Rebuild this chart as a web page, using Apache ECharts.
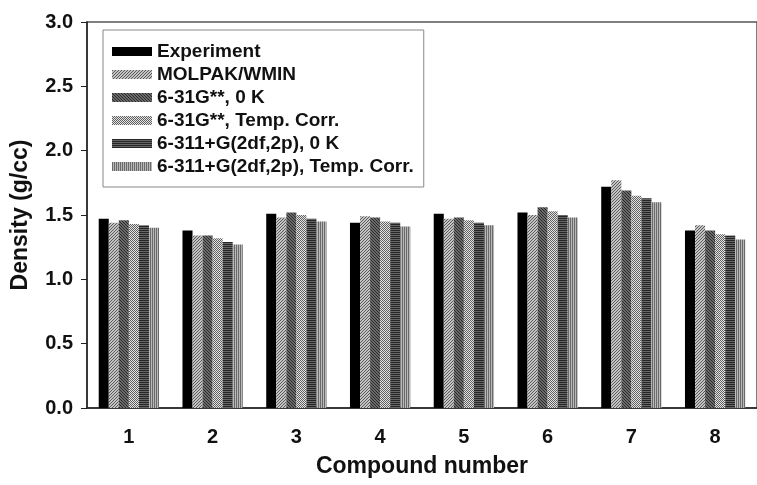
<!DOCTYPE html>
<html>
<head>
<meta charset="utf-8">
<script src="https://cdn.jsdelivr.net/npm/echarts@6/dist/echarts.min.js"></script>
<style>
html,body{margin:0;padding:0;background:#fff;}
#chart{width:757px;height:485px;}
</style>
</head>
<body>
<div id="chart"></div>
<script>
var categories = ['1','2','3','4','5','6','7','8'];
var seriesNames = ['Experiment','MOLPAK/WMIN','6-31G**, 0 K','6-31G**, Temp. Corr.','6-311+G(2df,2p), 0 K','6-311+G(2df,2p), Temp. Corr.'];
var experiment = [1.47, 1.38, 1.51, 1.44, 1.51, 1.52, 1.72, 1.38];
var molpak     = [1.44, 1.34, 1.48, 1.49, 1.47, 1.50, 1.77, 1.42];
var g631_0K    = [1.46, 1.34, 1.52, 1.48, 1.48, 1.56, 1.69, 1.38];
var g631_T     = [1.43, 1.32, 1.50, 1.45, 1.46, 1.53, 1.65, 1.35];
var g6311_0K   = [1.42, 1.29, 1.47, 1.44, 1.44, 1.50, 1.63, 1.34];
var g6311_T    = [1.40, 1.27, 1.45, 1.41, 1.42, 1.48, 1.60, 1.31];
var yTicks = [0, 0.5, 1.0, 1.5, 2.0, 2.5, 3.0];

function makePattern(n, bg, fg, test) {
  var c = document.createElement('canvas');
  c.width = n; c.height = n;
  var ctx = c.getContext('2d');
  ctx.fillStyle = bg; ctx.fillRect(0, 0, n, n);
  ctx.fillStyle = fg;
  for (var x = 0; x < n; x++) for (var y = 0; y < n; y++) {
    if (test(x, y)) ctx.fillRect(x, y, 1, 1);
  }
  return {image: c, repeat: 'repeat'};
}
var fills = [
  '#000000',
  makePattern(3, '#c4c4c4', '#5a5a5a', function(x,y){return (x+y)%3===0;}),
  makePattern(3, '#6a6a6a', '#2a2a2a', function(x,y){return (x-y+3)%3===0;}),
  makePattern(2, '#e4e4e4', '#606060', function(x,y){return (x+y)%2===0;}),
  makePattern(2, '#666666', '#262626', function(x,y){return y%2===0;}),
  makePattern(2, '#b8b8b8', '#6a6a6a', function(x,y){return x%2===0;})
];
var dataSets = [experiment, molpak, g631_0K, g631_T, g6311_0K, g6311_T];
var font = '"Liberation Sans", Arial, sans-serif';

var chart = echarts.init(document.getElementById('chart'), null, {renderer: 'canvas'});
chart.setOption({
  animation: false,
  backgroundColor: '#ffffff',
  grid: {left: 87, top: 22, right: -7, bottom: 77, show: true, borderColor: '#555', borderWidth: 1.5, backgroundColor: 'transparent'},
  legend: {
    orient: 'vertical', left: 103, top: 30,
    padding: [12, 10, 11, 9],
    borderColor: '#888', borderWidth: 1, backgroundColor: '#fff',
    itemWidth: 40, itemHeight: 9, itemGap: 4, itemTextGap: 13, icon: 'rect',
    textStyle: {fontFamily: font, fontWeight: 'bold', fontSize: 19, lineHeight: 18, color: '#111'},
    data: seriesNames
  },
  xAxis: {
    type: 'category', data: categories,
    axisLine: {lineStyle: {color: '#222', width: 1.5}},
    axisTick: {alignWithLabel: true, length: 6, lineStyle: {color: '#222'}},
    axisLabel: {fontFamily: font, fontWeight: 'bold', fontSize: 20, color: '#111', margin: 19},
    name: 'Compound number', nameLocation: 'middle', nameGap: 47,
    nameTextStyle: {fontFamily: font, fontWeight: 'bold', fontSize: 23, color: '#111'}
  },
  yAxis: {
    type: 'value', min: 0, max: 3, interval: 0.5,
    axisLine: {show: true, lineStyle: {color: '#222', width: 1.5}},
    axisTick: {show: true, length: 6, lineStyle: {color: '#222'}},
    splitLine: {show: false},
    axisLabel: {fontFamily: font, fontWeight: 'bold', fontSize: 20, color: '#111', margin: 14,
      formatter: function(v){ return v.toFixed(1); }},
    name: 'Density (g/cc)', nameLocation: 'middle', nameGap: 55,
    nameTextStyle: {fontFamily: font, fontWeight: 'bold', fontSize: 23, color: '#111'}
  },
  series: seriesNames.map(function(name, i){
    return {
      name: name, type: 'bar', data: dataSets[i],
      barWidth: '12%', barGap: '0%',
      itemStyle: {color: fills[i]}
    };
  })
});
</script>
</body>
</html>
